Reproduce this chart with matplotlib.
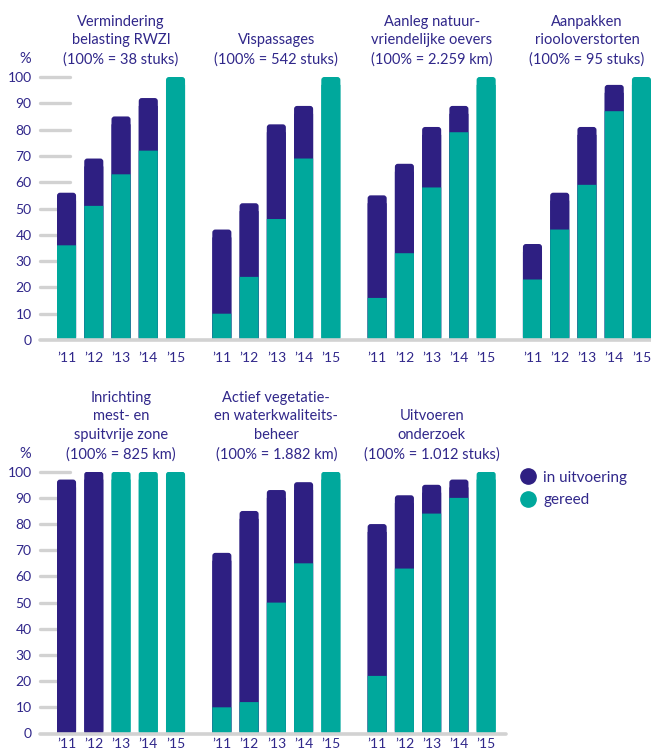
import matplotlib
matplotlib.use("Agg")
import matplotlib.pyplot as plt
from matplotlib.patches import FancyBboxPatch
from matplotlib.lines import Line2D

plt.rcParams['font.family'] = ['Lato', 'DejaVu Sans']

jaren = ["’11", "’12", "’13", "’14", "’15"]

# bovenste rij
titels_boven = ["Vermindering\nbelasting RWZI\n(100% = 38 stuks)",
                "Vispassages\n(100% = 542 stuks)",
                "Aanleg natuur-\nvriendelijke oevers\n(100% = 2.259 km)",
                "Aanpakken\nriooloverstorten\n(100% = 95 stuks)"]
gereed_rwzi = [36, 51, 63, 72, 100]
uitv_rwzi = [20, 18, 22, 20, 0]
gereed_vis = [10, 24, 46, 69, 100]
uitv_vis = [32, 28, 36, 20, 0]
gereed_oevers = [16, 33, 58, 79, 100]
uitv_oevers = [39, 34, 23, 10, 0]
gereed_riool = [23, 42, 59, 87, 100]
uitv_riool = [13.5, 14, 22, 10, 0]

# onderste rij
titels_onder = ["Inrichting\nmest- en\nspuitvrije zone\n(100% = 825 km)",
                "Actief vegetatie-\nen waterkwaliteits-\nbeheer\n(100% = 1.882 km)",
                "Uitvoeren\nonderzoek\n(100% = 1.012 stuks)"]
gereed_zone = [0, 0, 100, 100, 100]
uitv_zone = [97, 100, 0, 0, 0]
gereed_veg = [10, 12, 50, 65, 100]
uitv_veg = [59, 73, 43, 31, 0]
gereed_onderzoek = [22, 63, 84, 90, 100]
uitv_onderzoek = [58, 28, 11, 7, 0]

teal = '#00a89c'
paars = '#2e1f82'
tekst = '#30278a'
grijs = '#d2d2d2'

W, H = 651, 753
fig = plt.figure(figsize=(W / 100, H / 100), dpi=100)

bw = 0.7
gstep = 5.7
xl = (-0.974, 21.45)
px_x = 611 / (xl[1] - xl[0])


def panel_row(ax, titels, gereed, uitv, px_y, xpad):
    asp = px_x / px_y
    r = 3 / px_x
    xs_all = []
    for g, (tit, ger, uit) in enumerate(zip(titels, gereed, uitv)):
        xs = [g * gstep + i for i in range(5)]
        xs_all += xs
        for x, a, b in zip(xs, ger, uit):
            tot = a + b
            top_col = paars if b > 0 else teal
            p = FancyBboxPatch((x - bw / 2, 0), bw, tot,
                               boxstyle=f"round,pad=0,rounding_size={r}",
                               mutation_aspect=asp, fc=top_col, ec='none', zorder=2)
            ax.add_patch(p)
            ax.bar(x, tot - 3, bw, color=top_col, zorder=2, snap=False)
            if 0 < a < tot:
                ax.bar(x, a, bw, color=teal, zorder=3, snap=False)
        ax.text(g * gstep + 2, 104, tit, ha='center', va='bottom', fontsize=10.5,
                color=tekst, linespacing=1.42)
    ax.hlines(range(10, 101, 10), xl[0], 0.126, color=grijs, lw=2.4,
              capstyle='round', zorder=1, clip_on=False)
    ax.hlines(0, xl[0], xs_all[-1] + bw / 2 + 10 / px_x, color=grijs, lw=2.6,
              capstyle='round', zorder=4, clip_on=False)
    ax.set_xlim(xl)
    ax.set_ylim(0, 100)
    ax.set_yticks(range(0, 101, 10))
    ax.set_xticks(xs_all)
    ax.set_xticklabels(jaren * len(titels))
    ax.tick_params(length=0, labelsize=10, labelcolor=tekst)
    ax.tick_params(axis='y', pad=6)
    ax.tick_params(axis='x', pad=xpad)
    for s in ax.spines.values():
        s.set_visible(False)
    ax.text(-1.5, 104, '%', ha='center', va='bottom', fontsize=10.5, color=tekst)


ax1 = fig.add_axes([40 / W, (H - 340) / H, 611 / W, 263 / H])
panel_row(ax1, titels_boven,
          [gereed_rwzi, gereed_vis, gereed_oevers, gereed_riool],
          [uitv_rwzi, uitv_vis, uitv_oevers, uitv_riool], 2.63, 8.5)

ax2 = fig.add_axes([40 / W, (H - 733.5) / H, 611 / W, 261.8 / H])
panel_row(ax2, titels_onder,
          [gereed_zone, gereed_veg, gereed_onderzoek],
          [uitv_zone, uitv_veg, uitv_onderzoek], 2.618, 3.5)

handles = [Line2D([], [], marker='o', ls='none', ms=11, color=paars),
           Line2D([], [], marker='o', ls='none', ms=11, color=teal)]
leg = fig.legend(handles, ['in uitvoering', 'gereed'], loc='upper left',
                 bbox_to_anchor=(511 / W, 1 - 463 / H), frameon=False,
                 borderpad=0, handlelength=1.2, handletextpad=0.4,
                 labelspacing=0.55, fontsize=11)
for t in leg.get_texts():
    t.set_color(tekst)

fig.savefig('out.png', dpi=100)
